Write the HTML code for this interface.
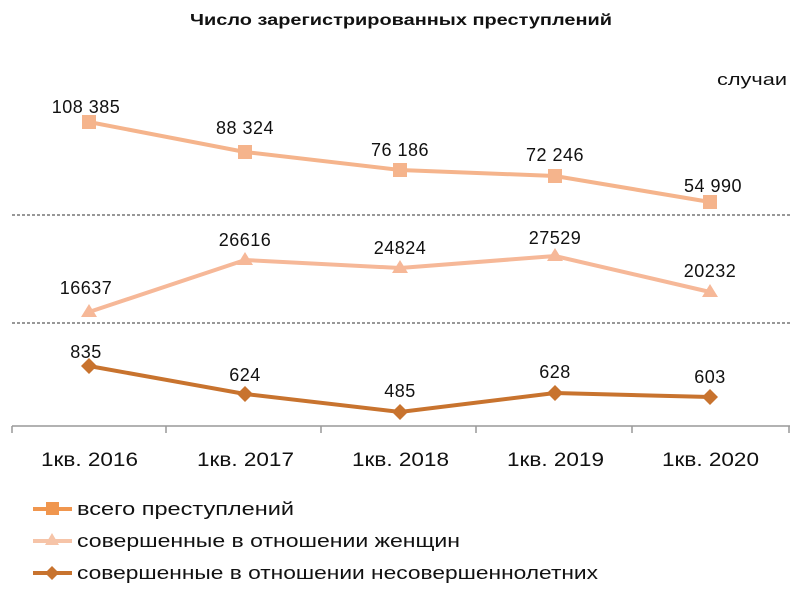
<!DOCTYPE html>
<html><head><meta charset="utf-8"><style>
body{margin:0;background:#fff;}
svg{display:block;font-family:"Liberation Sans","DejaVu Sans",sans-serif;}
</style></head><body>
<svg width="800" height="593" viewBox="0 0 800 593">
<rect width="800" height="593" fill="#fff"/>
<text x="190" y="25" font-size="16" font-weight="bold" fill="#111" textLength="422" lengthAdjust="spacingAndGlyphs">Число зарегистрированных преступлений</text>
<text x="787" y="85" text-anchor="end" font-size="17" fill="#111" textLength="70" lengthAdjust="spacingAndGlyphs">случаи</text>
<line x1="12" y1="215" x2="790" y2="215" stroke="#777" stroke-width="1.5" stroke-dasharray="3,2"/>
<line x1="12" y1="323" x2="790" y2="323" stroke="#777" stroke-width="1.5" stroke-dasharray="3,2"/>
<line x1="12" y1="426" x2="790" y2="426" stroke="#999" stroke-width="1.5"/>
<g stroke="#999" stroke-width="1.5">
<line x1="12" y1="426" x2="12" y2="433"/><line x1="166" y1="426" x2="166" y2="433"/><line x1="321" y1="426" x2="321" y2="433"/><line x1="476" y1="426" x2="476" y2="433"/><line x1="632" y1="426" x2="632" y2="433"/><line x1="789" y1="426" x2="789" y2="433"/>
</g>
<g font-size="19" fill="#111">
<text x="41" y="466" textLength="97" lengthAdjust="spacingAndGlyphs">1кв. 2016</text>
<text x="197" y="466" textLength="97" lengthAdjust="spacingAndGlyphs">1кв. 2017</text>
<text x="352" y="466" textLength="97" lengthAdjust="spacingAndGlyphs">1кв. 2018</text>
<text x="507" y="466" textLength="97" lengthAdjust="spacingAndGlyphs">1кв. 2019</text>
<text x="662" y="466" textLength="97" lengthAdjust="spacingAndGlyphs">1кв. 2020</text>
</g>
<polyline points="89,122 245,152 400,170 555,176 710,202" fill="none" stroke="#f5b48c" stroke-width="4"/>
<g fill="#f5b48c">
<rect x="82" y="115" width="14" height="14"/><rect x="238" y="145" width="14" height="14"/><rect x="393" y="163" width="14" height="14"/><rect x="548" y="169" width="14" height="14"/><rect x="703" y="195" width="14" height="14"/>
</g>
<polyline points="89,312 245,260 400,268 555,256 710,292" fill="none" stroke="#f6b898" stroke-width="4"/>
<g fill="#f6b898">
<polygon points="89,304 97,317 81,317"/><polygon points="245,252 253,265 237,265"/><polygon points="400,260 408,273 392,273"/><polygon points="555,248 563,261 547,261"/><polygon points="710,284 718,297 702,297"/>
</g>
<polyline points="89,366 245,394 400,412 555,393 710,397" fill="none" stroke="#c8732e" stroke-width="4"/>
<g fill="#c8732e">
<polygon points="89,358 97,366 89,374 81,366"/><polygon points="245,386 253,394 245,402 237,394"/><polygon points="400,404 408,412 400,420 392,412"/><polygon points="555,385 563,393 555,401 547,393"/><polygon points="710,389 718,397 710,405 702,397"/>
</g>
<g font-size="18" fill="#111" text-anchor="middle" letter-spacing="0.5">
<text x="86" y="113">108 385</text><text x="245" y="134">88 324</text><text x="400" y="156">76 186</text><text x="555" y="161">72 246</text><text x="713" y="192">54 990</text>
<text x="86" y="294">16637</text><text x="245" y="246">26616</text><text x="400" y="254">24824</text><text x="555" y="244">27529</text><text x="710" y="277">20232</text>
<text x="86" y="358">835</text><text x="245" y="381">624</text><text x="400" y="397">485</text><text x="555" y="378">628</text><text x="710" y="383">603</text>
</g>
<line x1="33" y1="509" x2="72" y2="509" stroke="#f0964e" stroke-width="4"/><rect x="46" y="502" width="13" height="13" fill="#f0964e"/>
<line x1="33" y1="541" x2="72" y2="541" stroke="#f6c4a8" stroke-width="4"/><polygon points="52,533 59,545 45,545" fill="#f6c4a8"/>
<line x1="33" y1="573" x2="72" y2="573" stroke="#c8732e" stroke-width="4"/><polygon points="52,566 59,573 52,580 45,573" fill="#c8732e"/>
<g font-size="18" fill="#111">
<text x="77" y="515" textLength="217" lengthAdjust="spacingAndGlyphs">всего преступлений</text>
<text x="77" y="547" textLength="383" lengthAdjust="spacingAndGlyphs">совершенные в отношении женщин</text>
<text x="77" y="579" textLength="521" lengthAdjust="spacingAndGlyphs">совершенные в отношении несовершеннолетних</text>
</g>
</svg>
</body></html>
